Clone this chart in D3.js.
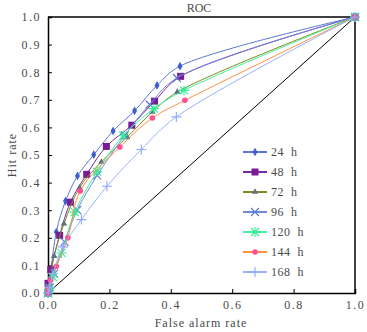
<!DOCTYPE html>
<html>
<head>
<meta charset="utf-8">
<script src="https://cdn.jsdelivr.net/npm/d3@7"></script>
<style>
  body { margin: 0; background: #fff; }
  svg text { font-family: "Liberation Serif", "Times New Roman", serif; font-weight: normal; }
</style>
</head>
<body>
<div id="chart-area"></div>
<script>
// Datos
var seriesNames = ["24  h", "48  h", "72  h", "96  h", "120  h", "144  h", "168  h"];
var fa24 = [0, 0.004, 0.027, 0.057, 0.096, 0.149, 0.212, 0.282, 0.355, 0.43, 1];
var hit24 = [0, 0.03, 0.221, 0.333, 0.424, 0.501, 0.587, 0.66, 0.752, 0.822, 1];
var fa48 = [0, 0, 0.009, 0.038, 0.073, 0.126, 0.19, 0.273, 0.347, 0.432, 1];
var hit48 = [0, 0.035, 0.085, 0.209, 0.329, 0.43, 0.531, 0.608, 0.695, 0.785, 1];
var fa72 = [0, 0.005, 0.02, 0.052, 0.103, 0.174, 0.258, 0.34, 0.421, 1];
var hit72 = [0, 0.03, 0.134, 0.251, 0.382, 0.475, 0.565, 0.656, 0.728, 1];
var fa96 = [0, 0.005, 0.02, 0.054, 0.095, 0.16, 0.25, 0.331, 0.42, 1];
var hit96 = [0, 0.02, 0.07, 0.185, 0.3, 0.426, 0.571, 0.683, 0.779, 1];
var fa120 = [0, 0.005, 0.016, 0.044, 0.087, 0.16, 0.245, 0.345, 0.443, 1];
var hit120 = [0, 0.015, 0.058, 0.145, 0.293, 0.44, 0.57, 0.668, 0.734, 1];
var fa144 = [0, 0, 0.008, 0.027, 0.065, 0.105, 0.234, 0.34, 0.446, 1];
var hit144 = [0, 0.015, 0.046, 0.097, 0.2, 0.37, 0.529, 0.634, 0.698, 1];
var fa168 = [0, 0.005, 0.016, 0.049, 0.109, 0.192, 0.304, 0.418, 1];
var hit168 = [0, 0.02, 0.07, 0.167, 0.266, 0.387, 0.52, 0.638, 1];
var xTicks = [0, 0.2, 0.4, 0.6, 0.8, 1.0];
var yTicks = [0, 0.1, 0.2, 0.3, 0.4, 0.5, 0.6, 0.7, 0.8, 0.9, 1.0];

var series = [
  {name: seriesNames[0], fa: fa24, hit: hit24, line: "#5b78d6", mark: "#3d5fcc", shape: "diamond"},
  {name: seriesNames[1], fa: fa48, hit: hit48, line: "#7e2a9c", mark: "#7a1a96", shape: "square"},
  {name: seriesNames[2], fa: fa72, hit: hit72, line: "#7f8c1e", mark: "#5f7080", shape: "triangle"},
  {name: seriesNames[3], fa: fa96, hit: hit96, line: "#7088dc", mark: "#5a74d2", shape: "x"},
  {name: seriesNames[4], fa: fa120, hit: hit120, line: "#44f0a0", mark: "#33ee99", shape: "asterisk"},
  {name: seriesNames[5], fa: fa144, hit: hit144, line: "#ff9044", mark: "#ff4f92", shape: "circle"},
  {name: seriesNames[6], fa: fa168, hit: hit168, line: "#9ab2ff", mark: "#90a8ff", shape: "plus"}
];

var width = 307;
var height = 276;
var margin = {top: 17, right: 12, bottom: 39, left: 48};
var textColor = "#4a4a4a";

var svg = d3.select("#chart-area")
    .append("svg")
    .attr("width", 367)
    .attr("height", 332);

var g = svg.append("g")
    .attr("transform", "translate(" + margin.left + "," + margin.top + ")");

var x = d3.scaleLinear().domain([0, 1]).range([0, width]);
var y = d3.scaleLinear().domain([0, 1]).range([height, 0]);

// Ejes (ticks hacia adentro)
var bottomAxis = d3.axisBottom(x).tickValues(xTicks).tickSize(-4).tickPadding(7)
    .tickFormat(d3.format(".1f"));
var leftAxis = d3.axisLeft(y).tickValues(yTicks).tickSize(-4).tickPadding(7)
    .tickFormat(d3.format(".1f"));

g.append("g")
    .attr("class", "bottom axis")
    .attr("transform", "translate(0," + height + ")")
    .call(bottomAxis);
g.append("g")
    .attr("class", "left axis")
    .call(leftAxis);

g.selectAll(".axis path").attr("stroke", "#000").attr("stroke-width", 1.5);
g.selectAll(".axis line").attr("stroke", "#000");
g.selectAll(".axis text")
    .attr("font-size", "12px")
    .attr("letter-spacing", "1.5px")
    .style("fill", textColor);

// Marco superior y derecho
g.append("line").attr("x1", 0).attr("x2", width).attr("y1", 0).attr("y2", 0)
    .attr("stroke", "#000").attr("stroke-width", 1.5);
g.append("line").attr("x1", width).attr("x2", width).attr("y1", 0).attr("y2", height)
    .attr("stroke", "#000").attr("stroke-width", 1.5);

// Diagonal
g.append("line")
    .attr("x1", x(0)).attr("y1", y(0)).attr("x2", x(1)).attr("y2", y(1))
    .attr("stroke", "#000").attr("stroke-width", 1);

// Titulos
svg.append("text")
    .attr("x", 199).attr("y", 12)
    .attr("text-anchor", "middle")
    .attr("font-size", "12px")
    .style("fill", textColor)
    .text("ROC");
svg.append("text")
    .attr("x", 201).attr("y", 327)
    .attr("text-anchor", "middle")
    .attr("font-size", "12px")
    .attr("letter-spacing", "1px")
    .style("fill", textColor)
    .text("False alarm rate");
svg.append("text")
    .attr("transform", "rotate(-90)")
    .attr("x", -155).attr("y", 16)
    .attr("text-anchor", "middle")
    .attr("font-size", "12px")
    .attr("letter-spacing", "1px")
    .style("fill", textColor)
    .text("Hit rate");

// Marcadores
function drawMarker(sel, shape, color, cx, cy) {
  if (shape === "diamond") {
    sel.append("path").attr("d", d3.symbol(d3.symbolDiamond, 22)())
      .attr("transform", "translate(" + cx + "," + cy + ")").attr("fill", color);
  } else if (shape === "square") {
    sel.append("rect").attr("x", cx - 3.5).attr("y", cy - 3.5)
      .attr("width", 7).attr("height", 7).attr("fill", color);
  } else if (shape === "triangle") {
    sel.append("path").attr("d", d3.symbol(d3.symbolTriangle, 18)())
      .attr("transform", "translate(" + cx + "," + cy + ")").attr("fill", color);
  } else if (shape === "circle") {
    sel.append("circle").attr("cx", cx).attr("cy", cy).attr("r", 2.8).attr("fill", color);
  } else {
    var r = 4;
    var p = d3.path();
    if (shape === "x" || shape === "asterisk") {
      p.moveTo(cx - r, cy - r); p.lineTo(cx + r, cy + r);
      p.moveTo(cx - r, cy + r); p.lineTo(cx + r, cy - r);
    }
    if (shape === "plus" || shape === "asterisk") {
      var q = 5;
      p.moveTo(cx - q, cy); p.lineTo(cx + q, cy);
      p.moveTo(cx, cy - q); p.lineTo(cx, cy + q);
    }
    sel.append("path").attr("d", p.toString())
      .attr("stroke", color).attr("stroke-width", 1.1).attr("fill", "none");
  }
}

var line = d3.line()
    .x(function(d) { return x(d[0]); })
    .y(function(d) { return y(d[1]); })
    .curve(d3.curveCatmullRom.alpha(0.5));

series.forEach(function(s) {
  var pts = s.fa.map(function(f, i) { return [f, s.hit[i]]; });
  g.append("path")
    .datum(pts)
    .attr("d", line)
    .attr("fill", "none")
    .attr("stroke", s.line)
    .attr("stroke-width", 1);
  var mg = g.append("g");
  pts.forEach(function(d) {
    drawMarker(mg, s.shape, s.mark, x(d[0]), y(d[1]));
  });
});

// Leyenda
var legend = svg.append("g").attr("transform", "translate(243,152)");
series.forEach(function(s, i) {
  var row = legend.append("g").attr("transform", "translate(0," + (i * 20) + ")");
  row.append("line").attr("x1", 0).attr("x2", 24).attr("y1", 0).attr("y2", 0)
    .attr("stroke", s.line).attr("stroke-width", 2);
  drawMarker(row, s.shape, s.mark, 12, 0);
  row.append("text")
    .attr("x", 28).attr("y", 4)
    .attr("font-size", "12px")
    .attr("letter-spacing", "0.5px")
    .style("fill", textColor)
    .style("white-space", "pre")
    .text(s.name);
});
</script>
</body>
</html>
